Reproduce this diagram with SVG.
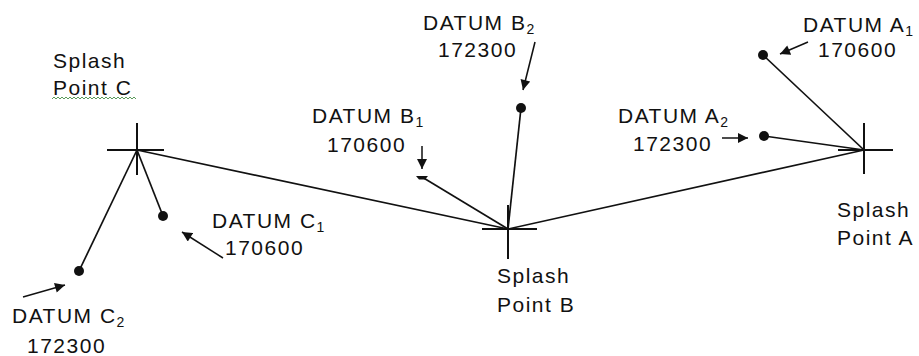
<svg xmlns="http://www.w3.org/2000/svg" width="919" height="356" viewBox="0 0 919 356">
<style>
text{font-family:"Liberation Sans",Arial,sans-serif;font-size:21px;letter-spacing:1.5px;fill:#111}
.sub{font-size:14px;letter-spacing:0}
.ln{stroke:#111;stroke-width:1.7;fill:none}
.cross{stroke:#111;stroke-width:2;fill:none}
.arr{stroke:#111;stroke-width:1.5;fill:none;marker-end:url(#ah)}
.dot{fill:#111}
</style>
<defs>
<marker id="ah" viewBox="0 0 10 10" refX="10" refY="5" markerWidth="11" markerHeight="10" markerUnits="userSpaceOnUse" orient="auto">
<path d="M0,0 L10,5 L0,10 z" fill="#111"/>
</marker>
</defs>
<g id="connectors">
<line class="ln" x1="137" y1="150" x2="508" y2="229"/>
<line class="ln" x1="508" y1="229" x2="864" y2="150"/>
<line class="ln" x1="137" y1="150" x2="163" y2="216"/>
<line class="ln" x1="137" y1="150" x2="79" y2="271"/>
<line class="ln" x1="422" y1="177" x2="508" y2="229"/>
<line class="ln" x1="521" y1="108" x2="508" y2="229"/>
<line class="ln" x1="763" y1="55" x2="864" y2="150"/>
<line class="ln" x1="764" y1="136" x2="864" y2="150"/>
<line class="arr" x1="23" y1="297" x2="65" y2="285"/>
<line class="arr" x1="223" y1="258" x2="182" y2="232"/>
<line class="arr" x1="422" y1="146" x2="422" y2="169"/>
<line class="arr" x1="535" y1="42" x2="523" y2="90"/>
<line class="arr" x1="722" y1="138" x2="748" y2="138"/>
<line class="arr" x1="808" y1="42" x2="780" y2="54"/>
</g>
<g id="splashC">
<line class="cross" x1="137" y1="123" x2="137" y2="175"/>
<line class="cross" x1="107" y1="150" x2="164" y2="150"/>
<text x="53" y="68">Splash</text>
<text x="53" y="95">Point C</text>
<path d="M52,99 l2,-2 l2,2 l2,-2 l2,2 l2,-2 l2,2 l2,-2 l2,2 l2,-2 l2,2 l2,-2 l2,2 l2,-2 l2,2 l2,-2 l2,2 l2,-2 l2,2 l2,-2 l2,2 l2,-2 l2,2 l2,-2 l2,2 l2,-2 l2,2 l2,-2 l2,2 l2,-2 l2,2 l2,-2 l2,2 l2,-2 l2,2 l2,-2 l2,2 l2,-2 l2,2 l2,-2 l2,2 l2,-2 l2,2" stroke="#5a9a5a" stroke-width="1" fill="none"/>
</g>
<g id="splashB">
<line class="cross" x1="508" y1="205" x2="508" y2="259"/>
<line class="cross" x1="482" y1="229" x2="537" y2="229"/>
<text x="497" y="283">Splash</text>
<text x="497" y="312">Point B</text>
</g>
<g id="splashA">
<line class="cross" x1="864" y1="123" x2="864" y2="174"/>
<line class="cross" x1="838" y1="150" x2="893" y2="150"/>
<text x="837" y="217">Splash</text>
<text x="837" y="245">Point A</text>
</g>
<g id="datumC1">
<circle class="dot" cx="163" cy="216" r="5"/>
<text x="212" y="228">DATUM C<tspan class="sub" dy="4">1</tspan></text>
<text x="225" y="255">170600</text>
</g>
<g id="datumC2">
<circle class="dot" cx="79" cy="271" r="5"/>
<text x="12" y="323">DATUM C<tspan class="sub" dy="4">2</tspan></text>
<text x="27" y="353">172300</text>
</g>
<g id="datumB1">
<path class="dot" d="M416,176 L428,176 L425,179.5 L419,179.5 z"/>
<text x="312" y="123">DATUM B<tspan class="sub" dy="4">1</tspan></text>
<text x="327" y="152">170600</text>
</g>
<g id="datumB2">
<circle class="dot" cx="521" cy="108" r="5"/>
<text x="423" y="30">DATUM B<tspan class="sub" dy="4">2</tspan></text>
<text x="438" y="57">172300</text>
</g>
<g id="datumA1">
<circle class="dot" cx="763" cy="55" r="5"/>
<text x="803" y="32">DATUM A<tspan class="sub" dy="4">1</tspan></text>
<text x="818" y="57">170600</text>
</g>
<g id="datumA2">
<circle class="dot" cx="764" cy="136" r="5"/>
<text x="618" y="123">DATUM A<tspan class="sub" dy="4">2</tspan></text>
<text x="633" y="151">172300</text>
</g>
</svg>
